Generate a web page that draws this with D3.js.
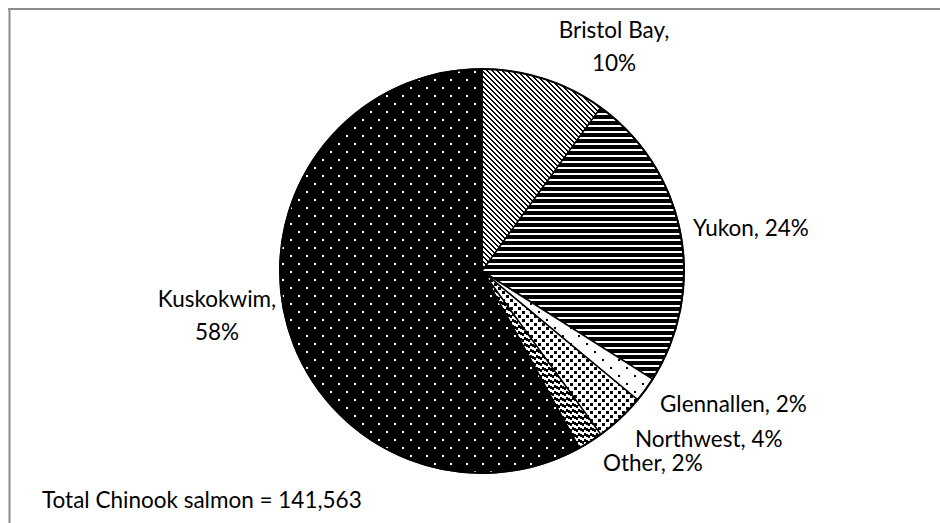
<!DOCTYPE html>
<html>
<head>
<meta charset="utf-8">
<script src="https://cdn.jsdelivr.net/npm/d3@7"></script>
<style>
  body { margin: 0; background: #fff; }
  text { font-family: Lato, "Open Sans", sans-serif; fill: #000; }
</style>
</head>
<body>
<div id="chart"></div>
<script>
// chart values
const categories = ["Bristol Bay", "Yukon", "Glennallen", "Northwest", "Other", "Kuskokwim"];
const percents = [10, 24, 2, 4, 2, 58];
const totalText = "Total Chinook salmon = 141,563";

const width = 940;
const height = 523;
const center = {x: 482, y: 271};
const radius = 202;
const fontSize = 22.5;

// where each label sits, relative to the pie center
const labelLayout = {
  "Bristol Bay": {dx: 132, dy: -233, anchor: "middle", lines: true},
  "Yukon": {dx: 211, dy: -35, anchor: "start"},
  "Glennallen": {dx: 178, dy: 141, anchor: "start"},
  "Northwest": {dx: 153, dy: 176, anchor: "start"},
  "Other": {dx: 121, dy: 200, anchor: "start"},
  "Kuskokwim": {dx: -265, dy: 36, anchor: "middle", lines: true}
};

const svg = d3.select('#chart').append('svg')
  .attr('width', width)
  .attr('height', height);

const defs = svg.append('defs');

// small bitmap fills, like the office pattern fills
function bitmap(id, w, h, bg, fg, cells) {
  const p = defs.append('pattern')
    .attr('id', id)
    .attr('patternUnits', 'userSpaceOnUse')
    .attr('width', w)
    .attr('height', h);
  p.append('rect').attr('width', w).attr('height', h).attr('fill', bg);
  p.selectAll('rect.px').data(cells).enter()
    .append('rect')
    .attr('class', 'px')
    .attr('x', d => d[0])
    .attr('y', d => d[1])
    .attr('width', d => d[2])
    .attr('height', d => d[3])
    .attr('fill', fg)
    .attr('shape-rendering', 'crispEdges');
}

const diag = [];
const up = [];
for (let r = 0; r < 5; r++) {
  diag.push([r % 5, r, 1, 1]);
  diag.push([(r + 1) % 5, r, 1, 1]);
}
// wide stripes, gently tilted, for "Other"
for (let c = 0; c < 6; c++) {
  up.push([c, (Math.floor(c / 2)) % 6, 1, 3]);
  if (Math.floor(c / 2) + 3 > 6) up.push([c, 0, 1, Math.floor(c / 2) + 3 - 6]);
}
bitmap('p-bristol', 5, 5, '#fff', '#000', diag);
bitmap('p-yukon', 6, 6, '#fff', '#000', [[0, 0, 6, 4]]);
bitmap('p-glenn', 16, 16, '#fff', '#000', [[0, 0, 2, 2], [8, 8, 2, 2]]);
bitmap('p-north', 8, 8, '#fff', '#000', [[0, 0, 3, 3], [4, 4, 3, 3]]);
bitmap('p-other', 6, 6, '#fff', '#000', up);
bitmap('p-kusko', 16, 16, '#000', '#fff', [[0, 0, 2, 2], [8, 8, 2, 2]]);

const fills = d3.scaleOrdinal()
  .domain(categories)
  .range(['p-bristol', 'p-yukon', 'p-glenn', 'p-north', 'p-other', 'p-kusko']);

// frame
svg.append('line')
  .attr('x1', 8).attr('x2', width).attr('y1', 9).attr('y2', 9)
  .attr('stroke', '#8c8c8c').attr('stroke-width', 2);
svg.append('line')
  .attr('x1', 9.5).attr('x2', 9.5).attr('y1', 8).attr('y2', height)
  .attr('stroke', '#8c8c8c').attr('stroke-width', 2);

const pieData = categories.map((c, i) => ({name: c, value: percents[i]}));

const pie = d3.pie()
  .sort(null)
  .value(d => d.value);

const arc = d3.arc()
  .innerRadius(0)
  .outerRadius(radius);

const g = svg.append('g')
  .attr('transform', `translate(${center.x}, ${center.y})`);

g.selectAll('path').data(pie(pieData)).enter()
  .append('path')
  .attr('d', arc)
  .attr('fill', d => `url(#${fills(d.data.name)})`)
  .attr('stroke', '#000')
  .attr('stroke-width', 1.5)
  .attr('stroke-linejoin', 'round');

// outer ring a little heavier
g.append('circle')
  .attr('r', radius)
  .attr('fill', 'none')
  .attr('stroke', '#000')
  .attr('stroke-width', 2);

// labels
pieData.forEach(d => {
  const lay = labelLayout[d.name];
  const t = g.append('text')
    .attr('text-anchor', lay.anchor)
    .attr('font-size', fontSize);
  if (lay.lines) {
    t.append('tspan').attr('x', lay.dx).attr('y', lay.dy).text(`${d.name},`);
    t.append('tspan').attr('x', lay.dx).attr('y', lay.dy + 33).text(`${d.value}%`);
  } else {
    t.attr('x', lay.dx).attr('y', lay.dy).text(`${d.name}, ${d.value}%`);
  }
});

svg.append('text')
  .attr('x', 42)
  .attr('y', 508)
  .attr('font-size', fontSize)
  .text(totalText);
</script>
</body>
</html>
